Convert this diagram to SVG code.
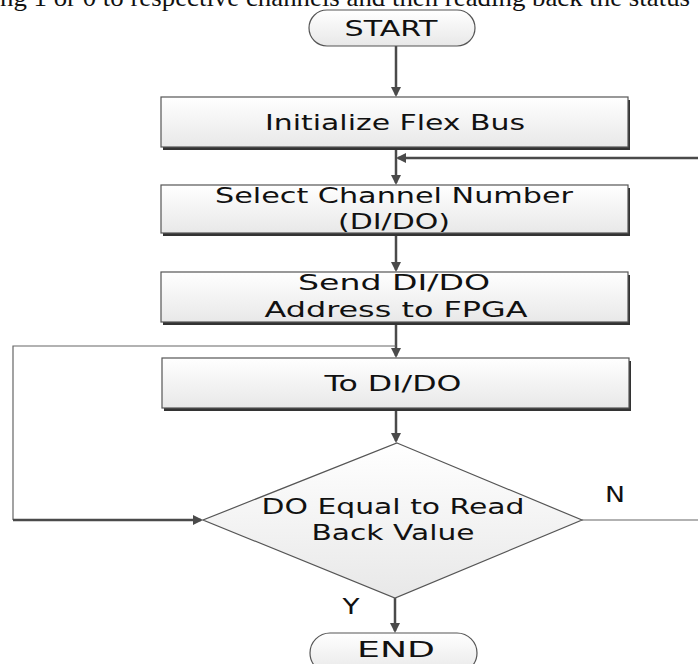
<svg xmlns="http://www.w3.org/2000/svg" width="698" height="664" viewBox="0 0 698 664">
<style>
.lbl{font-family:"DejaVu Sans","Open Sans",sans-serif;font-size:22px;fill:#111;text-anchor:middle}
.box{fill:url(#g);stroke:#555;stroke-width:1.2}
.sh{fill:#333}
.con{fill:none;stroke:#4a4a4a;stroke-width:2.5}
.thin{fill:none;stroke:#666;stroke-width:1.2}
</style>
<defs>
<linearGradient id="g" x1="0" y1="0" x2="0" y2="1">
<stop offset="0" stop-color="#ffffff"/>
<stop offset="1" stop-color="#e8e8e8"/>
</linearGradient>
<marker id="ah" markerWidth="10" markerHeight="10" refX="8" refY="5" orient="auto" markerUnits="userSpaceOnUse" viewBox="0 0 10 10">
<path d="M0,0 L10,5 L0,10 Z" fill="#4a4a4a"/>
</marker>
</defs>
<rect width="698" height="664" fill="#fff"/>
<text x="0" y="6" font-family="Liberation Serif,serif" font-size="25" textLength="690" lengthAdjust="spacingAndGlyphs" fill="#111">ng 1 or 0 to respective channels and then reading back the status</text>

<g id="connectors">
<path class="con" d="M396,45 V95" marker-end="url(#ah)"/>
<path class="con" d="M396,149 V183" marker-end="url(#ah)"/>
<path class="con" d="M698,158 H398" marker-end="url(#ah)"/>
<path class="con" d="M396,235 V270" marker-end="url(#ah)"/>
<path class="con" d="M396,324 V356" marker-end="url(#ah)"/>
<path class="thin" d="M396,346 H13 V520"/>
<path class="con" d="M13,520 H201" marker-end="url(#ah)"/>
<path class="con" d="M396,410 V441" marker-end="url(#ah)"/>
<path class="thin" d="M582,520 H698"/>
<path class="con" d="M395,598 V631" marker-end="url(#ah)"/>
</g>

<g id="start">
<rect x="309" y="10" width="166" height="36" rx="18" class="box"/>
<text x="391" y="36" class="lbl" textLength="93" lengthAdjust="spacingAndGlyphs">START</text>
</g>
<g id="init">
<rect x="163" y="100" width="467" height="50" class="sh"/>
<rect x="161" y="97" width="467" height="50" class="box"/>
<text x="395" y="130" class="lbl" textLength="260" lengthAdjust="spacingAndGlyphs">Initialize Flex Bus</text>
</g>
<g id="select">
<rect x="163" y="188" width="467" height="48" class="sh"/>
<rect x="161" y="185" width="467" height="48" class="box"/>
<text x="394" y="203" class="lbl" textLength="358" lengthAdjust="spacingAndGlyphs">Select Channel Number</text>
<text x="394" y="229" class="lbl" textLength="112" lengthAdjust="spacingAndGlyphs">(DI/DO)</text>
</g>
<g id="send">
<rect x="163" y="275" width="467" height="50" class="sh"/>
<rect x="161" y="272" width="467" height="50" class="box"/>
<text x="394" y="290" class="lbl" textLength="192" lengthAdjust="spacingAndGlyphs">Send DI/DO</text>
<text x="396" y="317" class="lbl" textLength="263" lengthAdjust="spacingAndGlyphs">Address to FPGA</text>
</g>
<g id="todido">
<rect x="164" y="361" width="467" height="50" class="sh"/>
<rect x="162" y="358" width="467" height="50" class="box"/>
<text x="393" y="391" class="lbl" textLength="137" lengthAdjust="spacingAndGlyphs">To DI/DO</text>
</g>
<g id="decision">
<polygon points="397,443 582,520 395,598 203,520" fill="url(#g)" stroke="#555" stroke-width="1.2"/>
<text x="393" y="514" class="lbl" textLength="263" lengthAdjust="spacingAndGlyphs">DO Equal to Read</text>
<text x="393" y="540" class="lbl" textLength="163" lengthAdjust="spacingAndGlyphs">Back Value</text>
<text x="615" y="502" class="lbl" textLength="20" lengthAdjust="spacingAndGlyphs">N</text>
<text x="351" y="614" class="lbl" textLength="17" lengthAdjust="spacingAndGlyphs">Y</text>
</g>
<g id="end">
<rect x="310" y="633" width="167" height="40" rx="20" class="box"/>
<text x="396" y="657" class="lbl" textLength="78" lengthAdjust="spacingAndGlyphs">END</text>
</g>
</svg>
